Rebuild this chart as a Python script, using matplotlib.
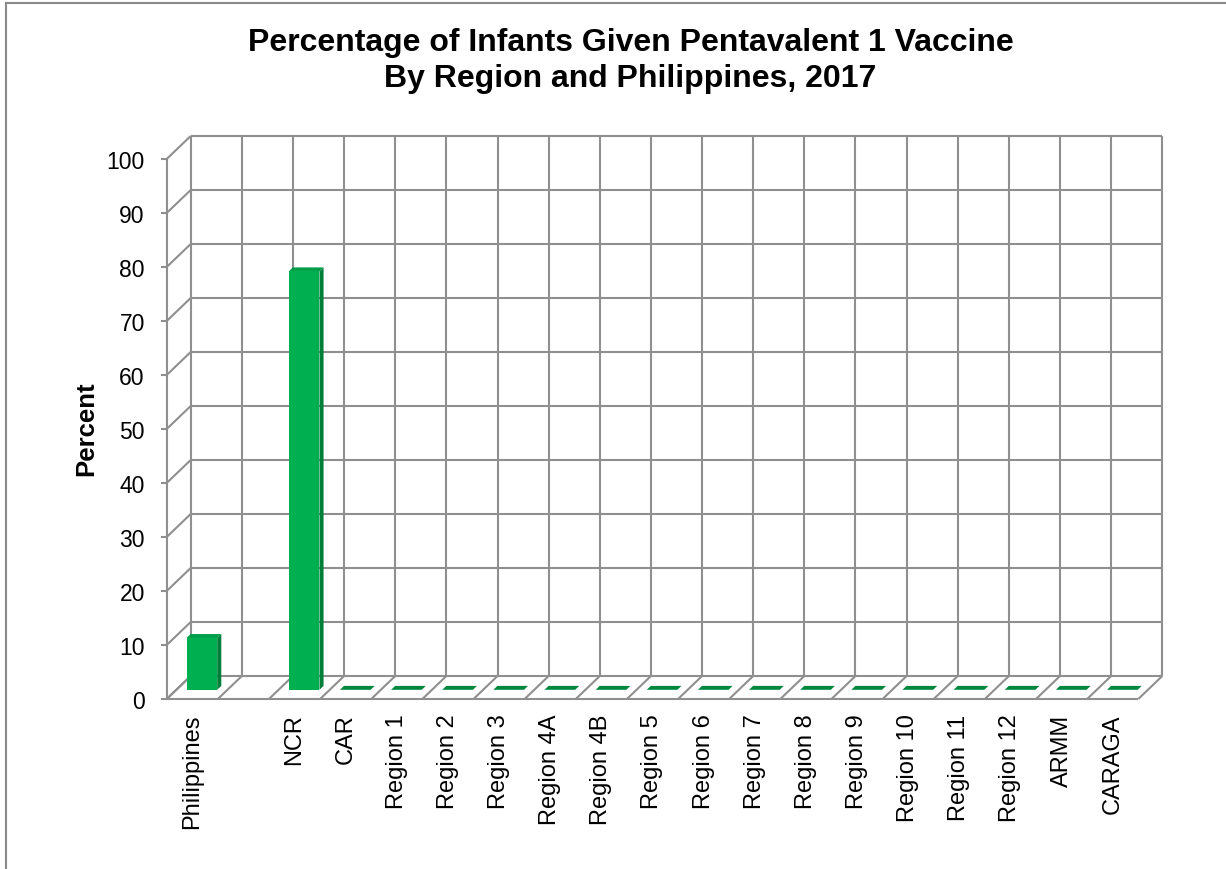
import numpy as np
import matplotlib
matplotlib.use("Agg")
import matplotlib.pyplot as plt
from matplotlib.patches import Polygon
from matplotlib.lines import Line2D

# ---- data ----
categories = ["Philippines", "", "NCR", "CAR", "Region 1", "Region 2", "Region 3",
              "Region 4A", "Region 4B", "Region 5", "Region 6", "Region 7", "Region 8",
              "Region 9", "Region 10", "Region 11", "Region 12", "ARMM", "CARAGA"]
values = [9.6, None, 77.5, 0, 0, 0, 0, 0, 0, 0, 0, 0, 0, 0, 0, 0, 0, 0, 0]
yticks = list(range(0, 101, 10))
title_lines = ["Percentage of Infants Given Pentavalent 1 Vaccine",
               "By Region and Philippines, 2017"]
ylabel = "Percent"

# ---- style ----
plt.rcParams['font.family'] = ['Liberation Sans', 'DejaVu Sans']
W, H, DPI = 1226, 870, 100
GRID = '#8f8f8f'
LW = 1.5
FRONT = '#00B050'
SIDE = '#007F3A'
TOP = '#009E48'
ZERO = '#00873F'

fig = plt.figure(figsize=(W / DPI, H / DPI), dpi=DPI)
# front plane of the 3-D box in pixels
fx0, fx1 = 166.7, 1138.3
fy0, fy100 = 700.0, 160.0
ax = fig.add_axes([fx0 / W, (H - fy0) / H, (fx1 - fx0) / W, (fy0 - fy100) / H])
n = len(categories)
ax.set_xlim(0, n)
ax.set_ylim(0, 100)
ax.set_facecolor('none')

# depth of the box in pixels -> data units
DEPTH_PX = (24.0, 23.0)
p0 = ax.transData.transform((0, 0))
q = ax.transData.inverted().transform(p0 + np.array(DEPTH_PX))
DX, DY = q[0], q[1]

def line(xs, ys, z=1, **kw):
    ax.add_line(Line2D(xs, ys, color=GRID, lw=LW, zorder=z, clip_on=False,
                       solid_capstyle='butt', **kw))

# back wall
for v in yticks:
    line([DX, n + DX], [v + DY, v + DY])
    line([0, DX], [v, v + DY])           # side wall
for i in range(n + 1):
    line([i + DX, i + DX], [DY, 100 + DY])
    line([i, i + DX], [0, DY])           # floor dividers
line([0, n], [0, 0])                     # floor front edge

# bars
a, b = 0.40, 0.57
bl, br = 0.2, 0.8
for i, v in enumerate(values):
    if v is None:
        continue
    xl, xr = i + bl, i + br
    if v == 0:
        pts = [(xl + a * DX, a * DY), (xr + a * DX, a * DY),
               (xr + b * DX, b * DY), (xl + b * DX, b * DY)]
        ax.add_patch(Polygon(pts, closed=True, fc=ZERO, ec='none', zorder=3, clip_on=False))
        continue
    front = [(xl + a * DX, a * DY), (xr + a * DX, a * DY),
             (xr + a * DX, v + a * DY), (xl + a * DX, v + a * DY)]
    side = [(xr + a * DX, a * DY), (xr + b * DX, b * DY),
            (xr + b * DX, v + b * DY), (xr + a * DX, v + a * DY)]
    top = [(xl + a * DX, v + a * DY), (xr + a * DX, v + a * DY),
           (xr + b * DX, v + b * DY), (xl + b * DX, v + b * DY)]
    ax.add_patch(Polygon(side, closed=True, fc=SIDE, ec='none', zorder=3, clip_on=False))
    ax.add_patch(Polygon(top, closed=True, fc=TOP, ec='none', zorder=3, clip_on=False))
    ax.add_patch(Polygon(front, closed=True, fc=FRONT, ec='none', zorder=4, clip_on=False))

# axes / ticks
for s in ['top', 'right', 'bottom']:
    ax.spines[s].set_visible(False)
ax.spines['left'].set_color(GRID)
ax.spines['left'].set_linewidth(LW)
ax.set_yticks(yticks)
ax.set_yticklabels([str(t) for t in yticks])
ax.tick_params(axis='y', length=4.3, width=LW, color=GRID, pad=11.5,
               labelsize=16.5, labelcolor='black')
ax.set_xticks(np.arange(n) + 0.5)
ax.set_xticklabels(categories, rotation=90, va='top', ha='center')
ax.tick_params(axis='x', length=0, pad=10.5, labelsize=17, labelcolor='black')

# y label
fig.text(86 / W, 1 - 429 / H, ylabel, rotation=90, ha='center', va='center',
         fontsize=18.5, fontweight='bold')

# title
fig.text(630.5 / W, 1 - 51.0 / H, title_lines[0], ha='center', va='baseline',
         fontsize=23, fontweight='bold')
fig.text(630.5 / W, 1 - 86.7 / H, title_lines[1], ha='center', va='baseline',
         fontsize=23, fontweight='bold')

# chart-area border (left and top visible)
fig.add_artist(Line2D([6 / W, 6 / W], [-0.01, 1 - 4 / H], transform=fig.transFigure,
                      color='#8a8a8a', lw=1.5))
fig.add_artist(Line2D([6 / W, 1.01], [1 - 4 / H, 1 - 4 / H], transform=fig.transFigure,
                      color='#8a8a8a', lw=1.5))

fig.savefig('out.png', dpi=DPI, facecolor='white')
